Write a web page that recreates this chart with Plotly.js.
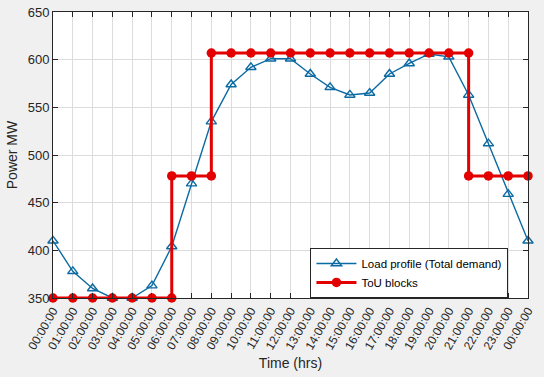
<!DOCTYPE html>
<html>
<head>
<meta charset="utf-8">
<script src="https://cdn.plot.ly/plotly-3.0.1.min.js"></script>
<style>html,body{margin:0;padding:0;background:#f0f0f0;}#chart{width:544px;height:377px;}</style>
</head>
<body>
<div id="chart"></div>
<script>
const hours = [0,1,2,3,4,5,6,7,8,9,10,11,12,13,14,15,16,17,18,19,20,21,22,23,24];
const tickLabels = ["00:00:00","01:00:00","02:00:00","03:00:00","04:00:00","05:00:00","06:00:00","07:00:00","08:00:00","09:00:00","10:00:00","11:00:00","12:00:00","13:00:00","14:00:00","15:00:00","16:00:00","17:00:00","18:00:00","19:00:00","20:00:00","21:00:00","22:00:00","23:00:00","00:00:00"];
const loadProfile = [410,378,360,350,350,363,404,470,535,574,592,601,601,585,571,563,565,585,596,606,603,563,512,459,410];
const touHours = [0,1,2,3,4,5,6,6,7,8,8,9,10,11,12,13,14,15,16,17,18,19,20,21,21,22,23,24];
const touValues = [350,350,350,350,350,350,350,478,478,478,607,607,607,607,607,607,607,607,607,607,607,607,607,607,478,478,478,478];

const traces = [
  {x: hours, y: loadProfile, type: 'scatter', mode: 'lines+markers', name: 'Load profile (Total demand)',
   cliponaxis: false,
   line: {color: '#0b6aa2', width: 1.4},
   marker: {symbol: 'triangle-up-open', size: 9, color: '#0b6aa2', line: {width: 1.4, color: '#0b6aa2'}}},
  {x: touHours, y: touValues, type: 'scatter', mode: 'lines+markers', name: 'ToU blocks',
   cliponaxis: false,
   line: {color: '#e30000', width: 3},
   marker: {symbol: 'circle', size: 9.5, color: '#e30000'}}
];

const layout = {
  width: 544, height: 377,
  paper_bgcolor: '#f0f0f0', plot_bgcolor: '#ffffff',
  margin: {l: 53, r: 16, t: 12, b: 79},
  font: {family: 'Liberation Sans, Arial, sans-serif', size: 12, color: '#262626'},
  showlegend: true,
  legend: {x: 0.542, y: 0.175, xanchor: 'left', yanchor: 'top', bgcolor: '#ffffff', bordercolor: '#262626', borderwidth: 1,
           font: {size: 11.5, color: '#000'}, tracegroupgap: 0, itemwidth: 40},
  xaxis: {
    range: [0, 24], tickmode: 'array', tickvals: hours, ticktext: tickLabels, tickangle: -60,
    showgrid: true, gridcolor: '#dcdcdc', gridwidth: 1, zeroline: false,
    showline: true, linecolor: '#262626', linewidth: 1, mirror: 'allticks',
    ticks: 'inside', ticklen: 5, tickcolor: '#262626',
    tickfont: {size: 12, color: '#262626'},
    title: {text: 'Time (hrs)', font: {size: 14, color: '#262626'}, standoff: 6}
  },
  yaxis: {
    range: [350, 650], tickvals: [350,400,450,500,550,600,650],
    showgrid: true, gridcolor: '#dcdcdc', gridwidth: 1, zeroline: false,
    showline: true, linecolor: '#262626', linewidth: 1, mirror: 'allticks',
    ticks: 'inside', ticklen: 5, tickcolor: '#262626',
    tickfont: {size: 13, color: '#262626'},
    title: {text: 'Power MW', font: {size: 14, color: '#262626'}, standoff: 6}
  }
};
Plotly.newPlot('chart', traces, layout, {displayModeBar: false, staticPlot: true});
</script>
</body>
</html>
